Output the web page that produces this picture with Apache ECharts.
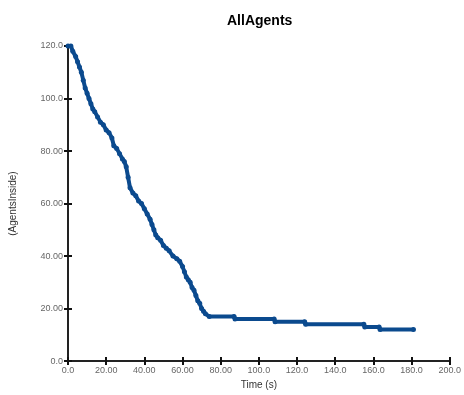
<!DOCTYPE html>
<html>
<head>
<meta charset="utf-8">
<script src="https://cdn.jsdelivr.net/npm/echarts@6/dist/echarts.min.js"></script>
<style>
html,body{margin:0;padding:0;background:#fff;}
#chart{width:464px;height:395px;}
</style>
</head>
<body>
<div id="chart"></div>
<script>
// 数据：时间(s) 与 场内人数
var timeSec = [
	0, 1.5, 2.5, 4, 5, 6, 7, 8, 9, 10,
	11, 12, 13, 14, 15.5, 17, 18.5, 20, 21.5, 23,
	24, 25.5, 27, 28.5, 29.5, 30.5, 31.5, 32.5, 34, 35.5,
	37, 38.5, 40, 41.5, 43, 44, 45, 46, 47, 48.5,
	50, 51.5, 53, 55, 57, 58.5, 60, 61, 62, 63,
	64, 65, 66, 67, 68, 69, 70, 71, 72, 74,
	87, 87.5, 108, 108.5, 124, 124.5, 155, 155.5, 163, 163.5, 181
];
var agentsInside = [
	120, 120, 118, 116, 114, 112, 110, 107, 104, 102,
	100, 98, 96, 95, 93, 91, 90, 88, 87, 85,
	82, 81, 79, 77, 76, 74, 70, 66, 64, 63,
	61, 60, 58, 56, 54, 52, 50, 48, 47, 46,
	44, 43, 42, 40, 39, 38, 36, 34, 32, 31,
	30, 28, 27, 25, 23, 22, 20, 19, 18, 17,
	17, 16, 16, 15, 15, 14, 14, 13, 13, 12, 12
];
//刻度文字
var xTicks = [0, 20, 40, 60, 80, 100, 120, 140, 160, 180, 200];
var xTickLabels = ['0.0', '20.00', '40.00', '60.00', '80.00', '100.0', '120.0', '140.0', '160.0', '180.0', '200.0'];
var yTicks = [0, 20, 40, 60, 80, 100, 120];
var yTickLabels = ['0.0', '20.00', '40.00', '60.00', '80.00', '100.0', '120.0'];

var seriesData = [];
for (var i = 0; i < timeSec.length; i++) {
	seriesData.push([timeSec[i], agentsInside[i]]);
}

function labelFor(ticks, labels) {
	return function(v) {
		var idx = ticks.indexOf(v);
		return idx >= 0 ? labels[idx] : '';
	};
}

var font = 'Liberation Sans, Arial, sans-serif';
var chart = echarts.init(document.getElementById('chart'));
var option = {
	animation : false,
	title : {
		text : 'AllAgents',
		left : 222,
		top : 9,
		textStyle : {
			fontFamily : font,
			fontSize : 14,
			fontWeight : 'bold',
			color : '#000'
		}
	},
	grid : {
		left : 67,
		right : 12,
		top : 46,
		bottom : 31
	},
	xAxis : [{
		type : 'value',
		min : 0,
		max : 200,
		interval : 20,
		name : 'Time (s)',
		nameLocation : 'middle',
		nameGap : 17,
		nameTextStyle : { fontFamily : font, fontSize : 10, color : '#333' },
		axisLine : { show : true, lineStyle : { color : '#222', width : 2 } },
		axisTick : { show : true, length : 4, lineStyle : { color : '#111', width : 2 } },
		axisLabel : {
			fontFamily : font,
			fontSize : 9,
			color : '#666',
			margin : 5,
			formatter : labelFor(xTicks, xTickLabels)
		},
		splitLine : { show : false }
	}, {
		type : 'value',
		position : 'bottom',
		min : 0,
		max : 200,
		interval : 20,
		axisLine : { show : false },
		axisTick : { show : true, inside : true, length : 4, lineStyle : { color : '#111', width : 2 } },
		axisLabel : { show : false },
		splitLine : { show : false }
	}],
	yAxis : [{
		type : 'value',
		min : 0,
		max : 120,
		interval : 20,
		name : '(AgentsInside)',
		nameLocation : 'middle',
		nameGap : 50,
		nameTextStyle : { fontFamily : font, fontSize : 10, color : '#333' },
		axisLine : { show : true, lineStyle : { color : '#222', width : 2 } },
		axisTick : { show : true, length : 4, lineStyle : { color : '#111', width : 2 } },
		axisLabel : {
			fontFamily : font,
			fontSize : 9,
			color : '#666',
			margin : 5,
			formatter : labelFor(yTicks, yTickLabels)
		},
		splitLine : { show : false }
	}, {
		type : 'value',
		position : 'left',
		min : 0,
		max : 120,
		interval : 20,
		axisLine : { show : false },
		axisTick : { show : true, inside : true, length : 4, lineStyle : { color : '#111', width : 2 } },
		axisLabel : { show : false },
		splitLine : { show : false }
	}],
	series : [{
		type : 'line',
		data : seriesData,
		symbol : 'circle',
		symbolSize : 5,
		showSymbol : true,
		lineStyle : { color : '#0b4a8e', width : 4 },
		itemStyle : { color : '#0b4a8e' }
	}]
};
chart.setOption(option);
</script>
</body>
</html>
